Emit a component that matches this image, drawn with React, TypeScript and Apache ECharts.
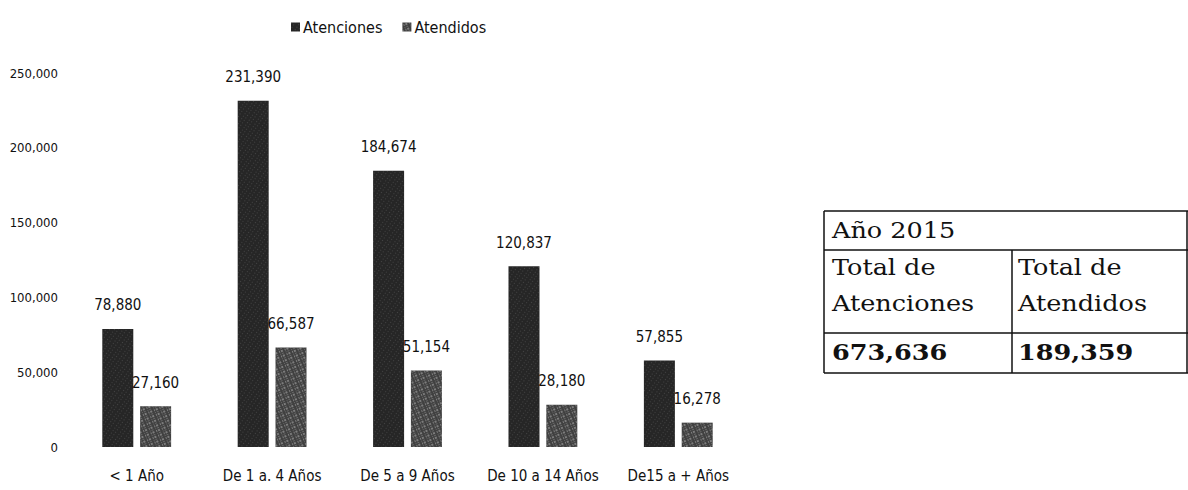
import React, { useEffect, useRef } from "react";
import * as echarts from "echarts";

const categories = ["< 1 Año", "De 1 a. 4 Años", "De 5 a 9 Años", "De 10 a 14 Años", "De15 a + Años"];
const atenciones = [78880, 231390, 184674, 120837, 57855];
const atendidos = [27160, 66587, 51154, 28180, 16278];
const yTicks = { min: 0, max: 250000, interval: 50000 };
const tableTitle = "Año 2015";
const tableHeaders = [["Total de", "Atenciones"], ["Total de", "Atendidos"]];
const tableTotals = ["673,636", "189,359"];

const sansFont = "'DejaVu Sans Condensed', 'Liberation Sans Narrow', sans-serif";
const serifFont = "'DejaVu Serif', serif";

const fmt = (v: number) => v.toLocaleString("en-US");

export default function App() {
  const ref = useRef<HTMLDivElement>(null);
  useEffect(() => {
    document.body.style.margin = "0";
    const chart = echarts.init(ref.current!, undefined, { renderer: "svg" });
    const lineStyle = { stroke: "#111", lineWidth: 1.5 };
    const tx = (x: number, y: number, text: string, bold = false) => ({
      type: "text",
      x,
      y,
      scaleX: 1.16,
      style: {
        text,
        fill: "#111",
        font: `${bold ? "bold " : ""}22px ${serifFont}`,
        textVerticalAlign: "middle",
        textAlign: "left",
      },
    });
    const labelStyle = {
      show: true,
      position: "top",
      distance: 16,
      fontFamily: sansFont,
      fontSize: 15,
      color: "#111",
      formatter: (p: any) => fmt(p.value),
    };
    chart.setOption({
      animation: false,
      backgroundColor: "#fff",
      legend: {
        left: 286,
        top: 14,
        itemWidth: 9,
        itemHeight: 9,
        itemGap: 20,
        icon: "rect",
        textStyle: { fontFamily: sansFont, fontSize: 16, color: "#111", padding: [0, 0, 0, -2] },
        data: ["Atenciones", "Atendidos"],
      },
      grid: { left: 69, right: 442, top: 73, bottom: 43, containLabel: false },
      xAxis: {
        type: "category",
        data: categories,
        axisLine: { show: false },
        axisTick: { show: false },
        axisLabel: { interval: 0, fontFamily: sansFont, fontSize: 15, color: "#111", margin: 21 },
      },
      yAxis: {
        type: "value",
        min: yTicks.min,
        max: yTicks.max,
        interval: yTicks.interval,
        splitLine: { show: false },
        axisLine: { show: false },
        axisTick: { show: false },
        axisLabel: { fontFamily: sansFont, fontSize: 13, color: "#111", margin: 11, formatter: (v: number) => fmt(v) },
      },
      series: [
        {
          name: "Atenciones",
          type: "bar",
          data: atenciones,
          barWidth: 31,
          barGap: "22%",
          itemStyle: {
            color: "#262626",
            decal: {
              symbol: "rect",
              symbolSize: 0.6,
              color: "rgba(255,255,255,0.45)",
              dashArrayX: [[1, 2, 1, 3]],
              dashArrayY: [1, 2],
              rotation: 0.6,
            },
          },
          label: labelStyle,
        },
        {
          name: "Atendidos",
          type: "bar",
          data: atendidos,
          barWidth: 31,
          itemStyle: {
            color: "#404040",
            decal: {
              symbol: "rect",
              symbolSize: 0.7,
              color: "rgba(255,255,255,0.6)",
              dashArrayX: [[1, 1, 2, 2]],
              dashArrayY: [1, 1, 2, 1],
              rotation: -0.4,
            },
          },
          label: labelStyle,
        },
      ],
      graphic: [
        { type: "line", shape: { x1: 824, y1: 211, x2: 1188, y2: 211 }, style: lineStyle },
        { type: "line", shape: { x1: 824, y1: 250, x2: 1188, y2: 250 }, style: lineStyle },
        { type: "line", shape: { x1: 824, y1: 333, x2: 1188, y2: 333 }, style: lineStyle },
        { type: "line", shape: { x1: 824, y1: 373, x2: 1188, y2: 373 }, style: lineStyle },
        { type: "line", shape: { x1: 824, y1: 211, x2: 824, y2: 373 }, style: lineStyle },
        { type: "line", shape: { x1: 1012, y1: 250, x2: 1012, y2: 373 }, style: lineStyle },
        { type: "line", shape: { x1: 1187, y1: 211, x2: 1187, y2: 373 }, style: lineStyle },
        tx(832, 231, tableTitle),
        tx(832, 268, tableHeaders[0][0]),
        tx(832, 304, tableHeaders[0][1]),
        tx(1018, 268, tableHeaders[1][0]),
        tx(1018, 304, tableHeaders[1][1]),
        tx(832, 353, tableTotals[0], true),
        tx(1018, 353, tableTotals[1], true),
      ],
    });
    return () => chart.dispose();
  }, []);
  return <div ref={ref} style={{ position: "absolute", left: 0, top: 0, width: 1188, height: 490 }} />;
}
